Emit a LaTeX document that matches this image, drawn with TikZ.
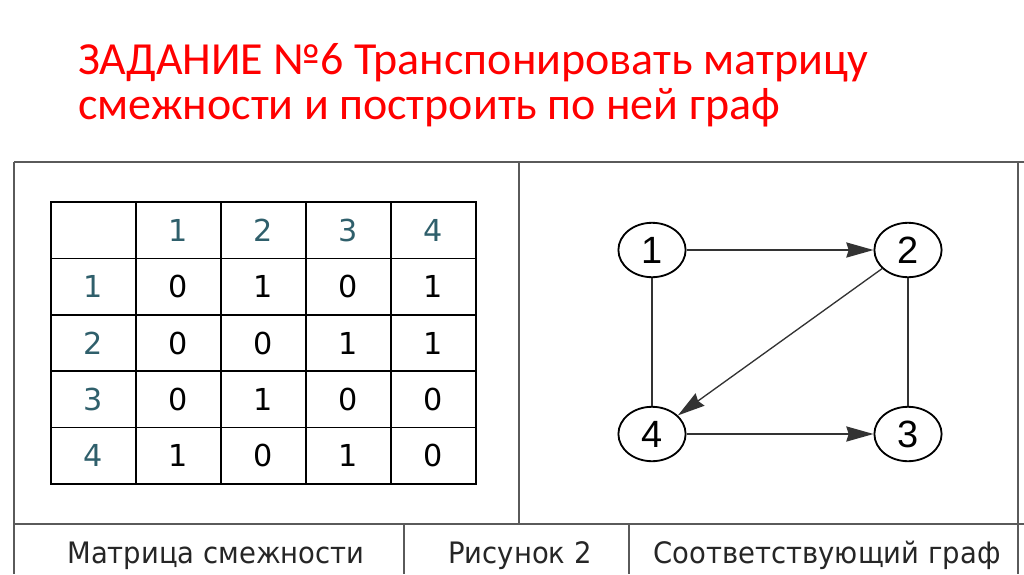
\documentclass[tikz,border=0pt]{standalone}
\usepackage{fontspec}
\setmainfont{Carlito}
\newfontfamily\cellfont{DejaVu Sans}
\newfontfamily\vertexfont{Liberation Sans}
\newfontfamily\footfont[FakeStretch=0.93]{DejaVu Sans}
\usetikzlibrary{shapes.geometric,arrows.meta}
\definecolor{hdrteal}{HTML}{2F5F6B}
\definecolor{framegray}{HTML}{5A5A5A}
\tikzset{
  title/.style={anchor=base west, inner sep=0, text=red, font=\fontsize{32.7pt}{40pt}\selectfont},
  frame/.style={draw=framegray, line width=1.4pt},
  grid/.style={draw=black, line width=1.1pt},
  cell/.style={inner sep=0, font=\cellfont\fontsize{21.5pt}{24pt}\selectfont},
  hdr/.style={cell, text=hdrteal},
  vertex/.style={ellipse, draw, line width=1.3pt, minimum width=1.68cm, minimum height=1.36cm, inner sep=0, font=\vertexfont\fontsize{27pt}{30pt}\selectfont},
  arc/.style={draw=black!80, line width=0.95pt},
  tip/.style={-{Stealth[length=0.68cm, width=0.38cm, inset=0.06cm]}},
  footer/.style={anchor=base, inner sep=0, text=black!85, font=\footfont\fontsize{21pt}{24pt}\selectfont}
}
\begin{document}
\begin{tikzpicture}[x=0.025cm, y=-0.025cm]
\useasboundingbox (0,0) rectangle (1024,574);
% title
\node[title] (t1) at (78,74) {ЗАДАНИЕ №6 Транспонировать матрицу};
\node[title] (t2) at (78,119) {смежности и построить по ней граф};

% frame
\draw[frame] (14,162) -- (1024,162);
\draw[frame] (14,162) -- (14,574);
\draw[frame] (1018,162) -- (1018,574);
\draw[frame] (519,162) -- (519,524);
\draw[frame] (14,524) -- (1024,524);
\draw[frame] (404,524) -- (404,574);
\draw[frame] (629,524) -- (629,574);

% adjacency table
\draw[grid] (51,202) rectangle (476,484);
\foreach \x in {136,221,306,391}
  \draw[grid] (\x,202) -- (\x,484);
\foreach \y in {258.4,314.8,371.2,427.6}
  \draw[grid] (51,\y) -- (476,\y);
\foreach \k in {1,...,4} {
  \node[hdr] (c\k) at (93.5+85*\k,230.2) {\k};
  \node[hdr] (r\k) at (93.5,230.2+56.4*\k) {\k};
}
\foreach \row [count=\i] in {{0,1,0,1},{0,0,1,1},{0,1,0,0},{1,0,1,0}}
  \foreach \v [count=\j] in \row
    \node[cell] (m\i\j) at (93.5+85*\j,230.2+56.4*\i) {\v};

% graph
\node[vertex] (v1) at (652,250) {1};
\node[vertex] (v2) at (908,250) {2};
\node[vertex] (v3) at (908,434) {3};
\node[vertex] (v4) at (652,434) {4};
\draw[arc, tip] (v1) -- (v2);
\draw[arc, tip] (v2) -- (v4);
\draw[arc, tip] (v4) -- (v3);
\draw[arc] (v1) -- (v4);
\draw[arc] (v2) -- (v3);

% captions
\node[footer] (f1) at (216,563) {Матрица смежности};
\node[footer] (f2) at (520,563) {Рисунок 2};
\node[footer] (f3) at (827,563) {Соответствующий граф};
\end{tikzpicture}
\end{document}
